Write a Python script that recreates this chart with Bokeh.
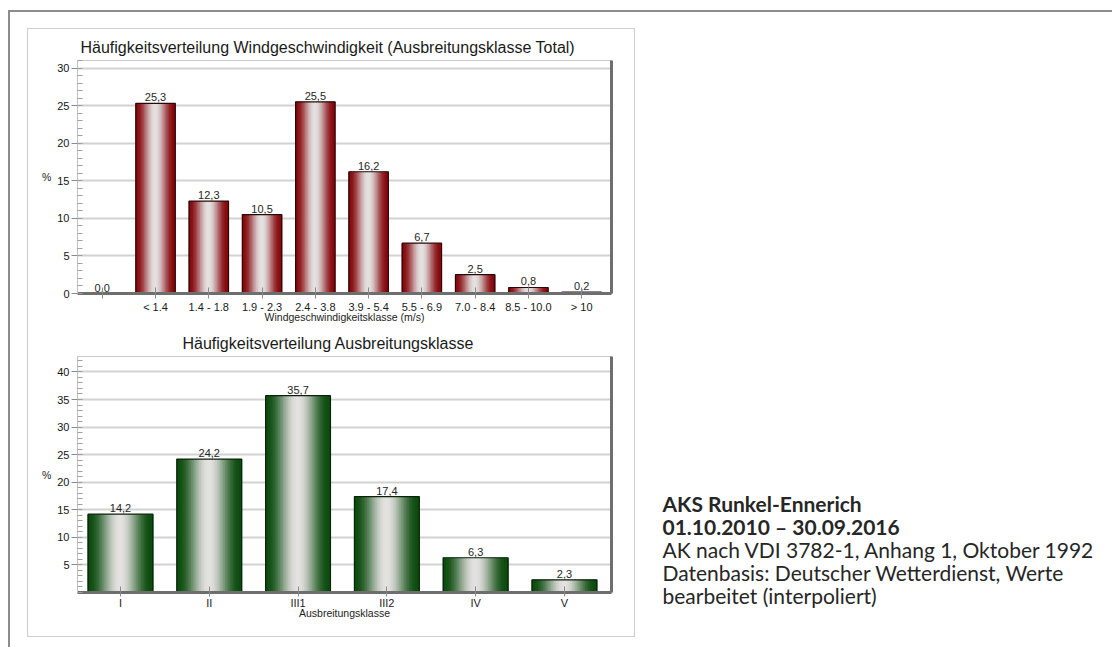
import numpy as np
from bokeh.plotting import figure
from bokeh.models import Range1d, FixedTicker, LinearAxis, Grid
from bokeh.layouts import row, column
from bokeh.embed import file_html
from bokeh.resources import INLINE
from bokeh.core.properties import value

# Wind speed classes and their share of hours (%)
wind_classes = ["", "< 1.4", "1.4 - 1.8", "1.9 - 2.3", "2.4 - 3.8", "3.9 - 5.4",
                "5.5 - 6.9", "7.0 - 8.4", "8.5 - 10.0", "> 10"]
wind_share = [0.0, 25.3, 12.3, 10.5, 25.5, 16.2, 6.7, 2.5, 0.8, 0.2]
wind_yticks = [0, 5, 10, 15, 20, 25, 30]

# Dispersion (stability) classes and their share of hours (%)
stab_classes = ["I", "II", "III1", "III2", "IV", "V"]
stab_share = [14.2, 24.2, 35.7, 17.4, 6.3, 2.3]
stab_yticks = [5, 10, 15, 20, 25, 30, 35, 40]

info_lines = [
    ("AKS Runkel-Ennerich", "bold"),
    ("01.10.2010 \u2013 30.09.2016", "bold"),
    ("AK nach VDI 3782-1, Anhang 1, Oktober 1992", "normal"),
    ("Datenbasis: Deutscher Wetterdienst, Werte", "normal"),
    ("bearbeitet (interpoliert)", "normal"),
]

FONT = value("Liberation Sans")
HIGHLIGHT = (228, 225, 225)


def shade(edge, t):
    m = np.sin(np.pi * t) ** 2.2
    rgb = [int(round(e + (h - e) * m)) for e, h in zip(edge, HIGHLIGHT)]
    return "#%02x%02x%02x" % tuple(rgb)


def cylinder_bars(p, shares, width, edge, outline, n):
    # each bar is built from thin vertical strips to get a rounded shading
    xs, tops, colors = [], [], []
    for i, v in enumerate(shares):
        for k in range(n):
            t = (k + 0.5) / n
            xs.append(i - width / 2 + t * width)
            tops.append(v)
            colors.append(shade(edge, t))
    p.vbar(x=xs, top=tops, bottom=0, width=width / n * 1.6,
           fill_color=colors, line_color=None)
    idx = list(range(len(shares)))
    p.vbar(x=idx, top=shares, bottom=0, width=width, fill_color=None,
           line_color=outline, line_width=1.2)
    labels = [f"{v:.1f}".replace(".", ",") for v in shares]
    p.text(x=idx, y=shares, text=labels, text_align="center",
           text_baseline="bottom", y_offset=-2, text_font=FONT,
           text_font_size="11px", text_color="#262626")


def bar_chart(title, title_offset, classes, shares, x_lo, x_hi, y_max, yticks,
              xlabel, tick_out, label_standoff, xlabel_standoff, edge, outline,
              bar_w, height, frame_w, frame_h, n_strips):
    mb_right = 606 - 49 - frame_w
    mb_bottom = height - 31 - frame_h
    p = figure(width=606, height=height, x_range=Range1d(x_lo, x_hi),
               y_range=Range1d(0, y_max), toolbar_location=None,
               output_backend="svg", x_axis_type=None, y_axis_type=None,
               min_border_left=49, min_border_right=mb_right,
               min_border_top=31, min_border_bottom=mb_bottom,
               background_fill_color="white", border_fill_color="white",
               outline_line_color="#c8c8c8", outline_line_width=1)
    p.title.text = title
    p.title.align = "left"
    p.title.offset = title_offset
    p.title.text_font = "Liberation Sans"
    p.title.text_font_size = "16px"
    p.title.text_font_style = "normal"
    p.title.text_color = "#1a1a1a"

    yax = LinearAxis(
        ticker=FixedTicker(ticks=yticks, minor_ticks=list(range(0, int(y_max) + 1))),
        axis_line_color="#c0c0c0", axis_line_width=1,
        major_tick_in=0, major_tick_out=6, major_tick_line_color="#8a8a8a",
        minor_tick_in=5, minor_tick_out=0, minor_tick_line_color="#a0a0a0",
        major_label_standoff=2, major_label_text_font="Liberation Sans",
        major_label_text_font_size="11px", major_label_text_color="#151515",
        axis_label="%", axis_label_orientation="horizontal",
        axis_label_standoff=3, axis_label_text_font="Liberation Sans",
        axis_label_text_font_size="10.5px", axis_label_text_font_style="normal",
        axis_label_text_color="#222222")
    p.add_layout(yax, "left")

    xax = LinearAxis(
        ticker=FixedTicker(ticks=list(range(len(classes)))),
        major_label_overrides={i: c for i, c in enumerate(classes)},
        axis_line_color="#6e6e6e", axis_line_width=3,
        major_tick_in=6, major_tick_out=tick_out, major_tick_line_color="#8a8a8a",
        minor_tick_line_color=None,
        major_label_standoff=label_standoff, major_label_text_font="Liberation Sans",
        major_label_text_font_size="11px", major_label_text_color="#1a1a1a",
        axis_label=xlabel, axis_label_standoff=xlabel_standoff,
        axis_label_text_font="Liberation Sans", axis_label_text_font_size="10.5px",
        axis_label_text_font_style="normal", axis_label_text_color="#222222")
    p.add_layout(xax, "below")

    shadow = LinearAxis(ticker=FixedTicker(ticks=[]), axis_line_color="#6e6e6e",
                        axis_line_width=3, major_tick_line_color=None,
                        minor_tick_line_color=None,
                        major_label_text_font_size="0px")
    p.add_layout(shadow, "right")

    p.add_layout(Grid(dimension=1, ticker=yax.ticker, grid_line_color="#d2d2d2",
                      grid_line_width=2))

    cylinder_bars(p, shares, bar_w, edge, outline, n_strips)
    return p


p_wind = bar_chart("H\u00e4ufigkeitsverteilung Windgeschwindigkeit (Ausbreitungsklasse Total)",
                   3, wind_classes, wind_share, -0.465, 9.56, 31.0, wind_yticks,
                   "Windgeschwindigkeitsklasse (m/s)", 5, 2, -5,
                   (134, 8, 12), "#2a0808", 0.74, 296, 534, 233, 28)
p_stab = bar_chart("H\u00e4ufigkeitsverteilung Ausbreitungsklasse",
                   105, stab_classes, stab_share, -0.484, 5.53, 42.8, stab_yticks,
                   "Ausbreitungsklasse", 4, 0, -5,
                   (12, 76, 14), "#0a220a", 0.73, 311, 541, 236, 40)

# free text block on the right
p_text = figure(width=477, height=635, x_range=Range1d(0, 477),
                y_range=Range1d(635, 0), toolbar_location=None,
                output_backend="svg", x_axis_type=None, y_axis_type=None,
                min_border=0, outline_line_color=None,
                background_fill_color="white", border_fill_color="white")
p_text.grid.visible = False
for k, (line, style) in enumerate(info_lines):
    p_text.text(x=[27], y=[491 + 23 * k], text=[line], text_font=value("Lato"),
                text_font_size="21px", text_font_style=style,
                text_color="#262626", text_baseline="middle")

panel = column(p_wind, p_stab, spacing=0,
               styles={"border": "1px solid #cdcdcd"}, margin=(16, 0, 0, 17))
page = row(panel, p_text, spacing=0,
           styles={"border-top": "2px solid #8c8c8c", "border-left": "2px solid #8c8c8c"},
           margin=(10, 0, 0, 8))

open("out.html", "w").write(file_html(page, INLINE))
